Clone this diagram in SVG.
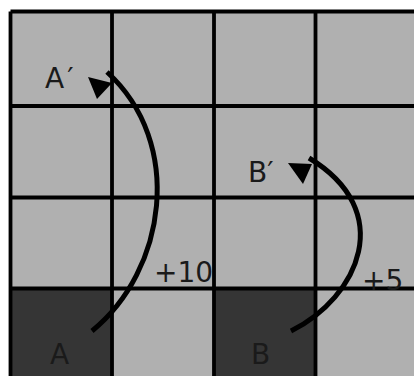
<svg xmlns="http://www.w3.org/2000/svg" width="414" height="376" viewBox="0 0 414 376">
  <style>
    .cell { fill: #b0b0b0; }
    .dark { fill: #353535; }
    .grid { stroke: #000; stroke-width: 3.8; fill: none; }
    .lbl { font-family: "DejaVu Sans", "Liberation Sans", sans-serif; font-size: 28px; fill: #1a1a1a; }
    .move { stroke: #000; stroke-width: 5; fill: none; }
    .head { fill: #000; }
  </style>
  <rect width="414" height="376" fill="#fff"/>
  <g id="board">
    <rect class="cell" x="10.5" y="11.5" width="410" height="370"/>
    <rect id="cellA" class="dark" x="10.5" y="288.5" width="101.5" height="92"/>
    <rect id="cellB" class="dark" x="214" y="288.5" width="101.5" height="92"/>
    <g class="grid">
      <path d="M10.5 11.5 V380 M112 11.5 V380 M214 11.5 V380 M315.5 11.5 V380 M10.5 11.5 H420 M10.5 106 H420 M10.5 197.5 H420 M10.5 288.5 H420"/>
    </g>
  </g>
  <g id="labels">
    <text class="lbl" x="45" y="88">A<tspan dx="3">′</tspan></text>
    <text class="lbl" x="248" y="182">B′</text>
    <text class="lbl" x="50" y="364">A</text>
    <text class="lbl" x="251" y="364">B</text>
    <text class="lbl" x="154" y="282">+10</text>
    <text class="lbl" x="362" y="290">+5</text>
  </g>
  <g id="connectors">
    <path class="move" d="M92 331 C166 271 185 143 107 72"/>
    <polygon class="head" points="88,77 112,83 97,99"/>
    <path class="move" d="M291 331 C359 297 397 211 309 158"/>
    <polygon class="head" points="288,163 312,164 303,184"/>
  </g>
</svg>
